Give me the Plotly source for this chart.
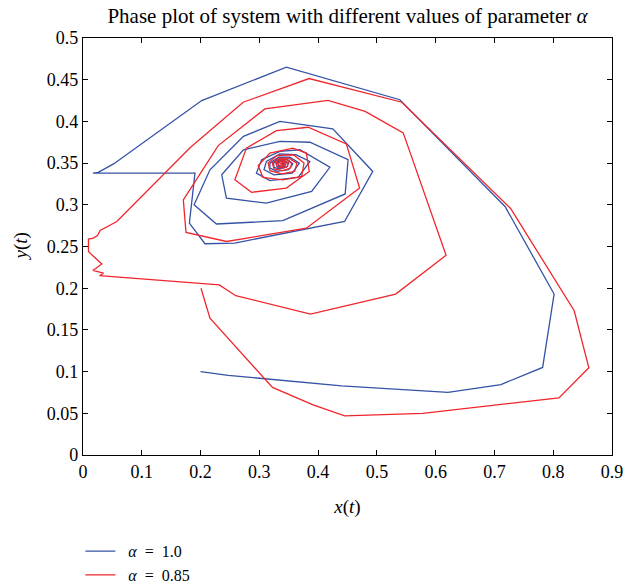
import plotly.graph_objects as go

# Trajectory for alpha = 1.0 (x, y vertices in order of time)
x_a10 = [0.200, 0.247, 0.440, 0.621, 0.711, 0.782, 0.8015, 0.718, 0.539, 0.346, 0.202,
         0.052, 0.026, 0.017, 0.1905, 0.181, 0.2075, 0.258, 0.445, 0.493, 0.425, 0.335,
         0.273, 0.216, 0.189, 0.227, 0.340, 0.446, 0.451, 0.386, 0.335, 0.273, 0.236,
         0.244, 0.312, 0.389, 0.420, 0.369, 0.335, 0.304, 0.295, 0.318, 0.366, 0.386,
         0.362, 0.335, 0.312, 0.308, 0.325, 0.356, 0.368, 0.352, 0.333, 0.318, 0.318,
         0.330, 0.350, 0.357, 0.347, 0.334, 0.324, 0.325, 0.333, 0.346, 0.350, 0.343,
         0.335, 0.329, 0.330, 0.335, 0.343, 0.345, 0.341, 0.336, 0.332, 0.333, 0.337,
         0.341, 0.342, 0.339, 0.338]
y_a10 = [0.100, 0.0955, 0.083, 0.075, 0.0845, 0.105, 0.193, 0.298, 0.426, 0.465, 0.425,
         0.349, 0.339, 0.338, 0.338, 0.278, 0.2533, 0.2541, 0.280, 0.340, 0.391, 0.400,
         0.382, 0.342, 0.300, 0.277, 0.281, 0.313, 0.354, 0.375, 0.376, 0.366, 0.336,
         0.308, 0.302, 0.316, 0.345, 0.366, 0.364, 0.354, 0.338, 0.329, 0.333, 0.352,
         0.360, 0.361, 0.352, 0.342, 0.336, 0.338, 0.350, 0.357, 0.357, 0.350, 0.344,
         0.340, 0.342, 0.349, 0.355, 0.355, 0.350, 0.345, 0.343, 0.345, 0.350, 0.353,
         0.353, 0.350, 0.346, 0.345, 0.346, 0.349, 0.352, 0.352, 0.350, 0.347, 0.346,
         0.347, 0.349, 0.350, 0.349]

# Trajectory for alpha = 0.85
x_a085 = [0.2007, 0.216, 0.3224, 0.3914, 0.4453, 0.578, 0.8097, 0.8606, 0.8357, 0.7275,
          0.5425, 0.3846, 0.2725, 0.183, 0.0575, 0.0292, 0.0246, 0.0178, 0.0093, 0.0093,
          0.015, 0.032, 0.0168, 0.0348, 0.028, 0.2318, 0.260, 0.387, 0.532, 0.6177,
          0.5448, 0.480, 0.4168, 0.3094, 0.2301, 0.1707, 0.1752, 0.2443, 0.380, 0.4706,
          0.448, 0.383, 0.329, 0.278, 0.2584, 0.2868, 0.346, 0.385, 0.380, 0.357, 0.318,
          0.298, 0.306, 0.340, 0.372, 0.376, 0.358, 0.330, 0.315, 0.318, 0.338, 0.360,
          0.364, 0.350, 0.333, 0.322, 0.325, 0.340, 0.353, 0.355, 0.346, 0.334, 0.328,
          0.331, 0.340, 0.348, 0.349, 0.343, 0.335, 0.332, 0.335, 0.341, 0.345, 0.341,
          0.336, 0.337, 0.340, 0.339]
y_a085 = [0.200, 0.164, 0.081, 0.060, 0.047, 0.050, 0.0685, 0.1046, 0.173, 0.2956,
          0.423, 0.4514, 0.423, 0.369, 0.280, 0.2693, 0.263, 0.260, 0.259, 0.244,
          0.240, 0.229, 0.2213, 0.218, 0.215, 0.204, 0.191, 0.169, 0.193, 0.2395,
          0.3863, 0.412, 0.4253, 0.415, 0.371, 0.306, 0.2669, 0.256, 0.272, 0.320,
          0.373, 0.393, 0.389, 0.368, 0.330, 0.315, 0.320, 0.340, 0.362, 0.368, 0.362,
          0.347, 0.333, 0.330, 0.334, 0.350, 0.360, 0.359, 0.350, 0.341, 0.337, 0.340,
          0.350, 0.356, 0.356, 0.350, 0.343, 0.341, 0.344, 0.350, 0.354, 0.354, 0.350,
          0.345, 0.344, 0.346, 0.350, 0.352, 0.352, 0.349, 0.346, 0.346, 0.349, 0.351,
          0.350, 0.348, 0.348, 0.349]

x_ticks = [0, 0.1, 0.2, 0.3, 0.4, 0.5, 0.6, 0.7, 0.8, 0.9]
y_ticks = [0, 0.05, 0.1, 0.15, 0.2, 0.25, 0.3, 0.35, 0.4, 0.45, 0.5]

SERIF = "Liberation Serif, Times New Roman, serif"
BLUE = "#3452a6"
RED = "#f0262c"
SP = "\u2002"  # wide space used in legend labels

fig = go.Figure()
fig.add_trace(go.Scatter(x=x_a10, y=y_a10, mode="lines", name=f"{SP}<i>α</i>{SP}={SP}1.0",
                         line=dict(color=BLUE, width=1.3)))
fig.add_trace(go.Scatter(x=x_a085, y=y_a085, mode="lines", name=f"{SP}<i>α</i>{SP}={SP}0.85",
                         line=dict(color=RED, width=1.3)))

axis_common = dict(
    showgrid=False, zeroline=False, showline=True, linecolor="black", linewidth=1.3,
    mirror="ticks", ticks="inside", ticklen=5, tickcolor="black", tickwidth=1,
    tickfont=dict(family=SERIF, size=18, color="black"),
)

fig.update_layout(
    width=626, height=588,
    margin=dict(l=83, r=14, t=38, b=133, autoexpand=False),
    paper_bgcolor="white", plot_bgcolor="white",
    font=dict(family=SERIF, color="black"),
    title=dict(text="Phase plot of system with different values of parameter <i>α</i>",
               x=(83 + 612) / 2 / 626, xanchor="center", y=1 - 16 / 588, yanchor="middle",
               font=dict(family=SERIF, size=21, color="black")),
    xaxis=dict(range=[0, 0.9], tickvals=x_ticks,
               title=dict(text="<i>x</i>(<i>t</i>)", standoff=18,
                          font=dict(family=SERIF, size=19, color="black")),
               **axis_common),
    yaxis=dict(range=[0, 0.5], tickvals=y_ticks, **axis_common),
    legend=dict(x=-0.005, y=-0.19, xanchor="left", yanchor="top", orientation="v",
                font=dict(family=SERIF, size=16, color="black"),
                bgcolor="rgba(0,0,0,0)", tracegroupgap=0, itemwidth=30),
    showlegend=True,
)

# y-axis title placed as a rotated label left of the tick labels
fig.add_annotation(text="<i>y</i>(<i>t</i>)", xref="paper", yref="paper",
                   x=(20 - 83) / 529, y=0.5, xanchor="center", yanchor="middle",
                   textangle=-90, showarrow=False,
                   font=dict(family=SERIF, size=19, color="black"))

fig.write_html("out.html")
